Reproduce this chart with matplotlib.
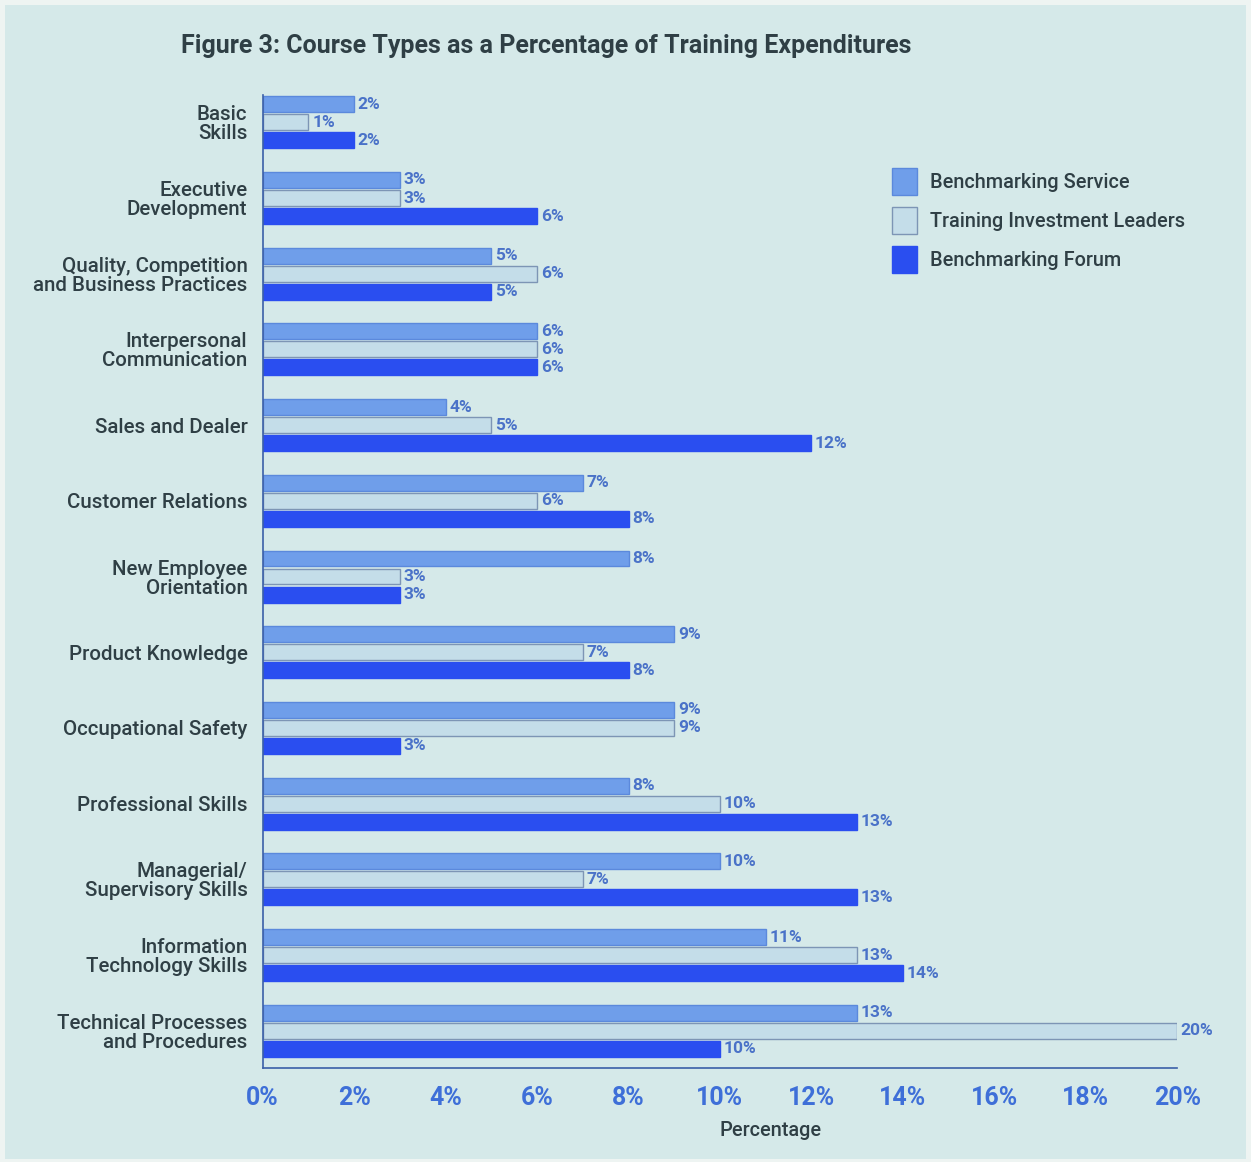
import numpy as np
import matplotlib.pyplot as plt
from matplotlib.patches import Patch

# course types, top to bottom
courses = ["Basic\nSkills", "Executive\nDevelopment",
           "Quality, Competition\nand Business Practices",
           "Interpersonal\nCommunication", "Sales and Dealer",
           "Customer Relations", "New Employee\nOrientation",
           "Product Knowledge", "Occupational Safety", "Professional Skills",
           "Managerial/\nSupervisory Skills", "Information\nTechnology Skills",
           "Technical Processes\nand Procedures"]

bench_service = [2, 3, 5, 6, 4, 7, 8, 9, 9, 8, 10, 11, 13]
invest_leaders = [1, 3, 6, 6, 5, 6, 3, 7, 9, 10, 7, 13, 20]
bench_forum = [2, 6, 5, 6, 12, 8, 3, 8, 3, 13, 13, 14, 10]

series_names = ["Benchmarking Service", "Training Investment Leaders",
                "Benchmarking Forum"]
xticks = [0, 2, 4, 6, 8, 10, 12, 14, 16, 18, 20]

plt.rcParams['font.family'] = ['Roboto', 'DejaVu Sans']
bg = "#d5e9e9"
dark = "#2f3f45"
tick_blue = "#3e6fd8"
colors = ["#6f9eea", "#c4dde9", "#2a4ef0"]
edges = ["#5b89dc", "#7d95b5", "#2a4ef0"]

fig = plt.figure(figsize=(12.51, 11.62), dpi=100, facecolor="#eef4f2")
fig.patches.append(plt.Rectangle((0.004, 0.003), 0.992, 0.993,
                                 transform=fig.transFigure,
                                 facecolor=bg, edgecolor="none", zorder=-1))
ax = fig.add_axes([0.210, 0.081, 0.731, 0.837])
ax.set_facecolor(bg)

y = np.arange(len(courses))
offset = 0.238
height = 0.21
for k, vals in enumerate([bench_service, invest_leaders, bench_forum]):
    pos = y + (k - 1) * offset
    ax.barh(pos, vals, height=height, color=colors[k], edgecolor=edges[k],
            linewidth=1.0, label=series_names[k])
    for p, v in zip(pos, vals):
        ax.text(v + 0.08, p, f"{v}%", va="center", ha="left", fontsize=12.5,
                fontweight="bold", color="#4a72c8")

ax.set_xlim(0, 20)
ax.set_ylim(12.49, -0.357)
ax.set_yticks(y)
ax.set_yticklabels(courses, fontsize=14.8, color=dark, ha="right",
                   linespacing=1.0, fontweight="medium")
ax.tick_params(axis="y", length=0, pad=11)
ax.set_xticks(xticks)
ax.set_xticklabels([f"{t}%" for t in xticks], fontsize=18, fontweight="bold",
                   color=tick_blue)
ax.tick_params(axis="x", length=0, pad=13)
ax.set_xlabel("Percentage", fontsize=14.3, color=dark, fontweight="medium")
ax.xaxis.set_label_coords(0.555, -0.055)

for side in ["top", "right"]:
    ax.spines[side].set_visible(False)
ax.spines["left"].set_color("#3b5fa8")
ax.spines["bottom"].set_color("#3b5fa8")
ax.spines["left"].set_linewidth(1.2)
ax.spines["bottom"].set_linewidth(1.2)

handles = [Patch(facecolor=colors[k], edgecolor=edges[k], label=series_names[k])
           for k in range(3)]
fig.legend(handles=handles, loc="upper left", bbox_to_anchor=(0.699, 0.871),
           frameon=False, prop={"size": 14.3, "weight": "medium"},
           labelcolor=dark, handlelength=1.25, handleheight=1.7,
           labelspacing=0.62, handletextpad=0.65)

fig.text(0.145, 0.96, "Figure 3: Course Types as a Percentage of Training Expenditures",
         fontsize=18, fontweight="bold", color=dark, va="center")

fig.savefig("out.png", dpi=100, facecolor=fig.get_facecolor())
